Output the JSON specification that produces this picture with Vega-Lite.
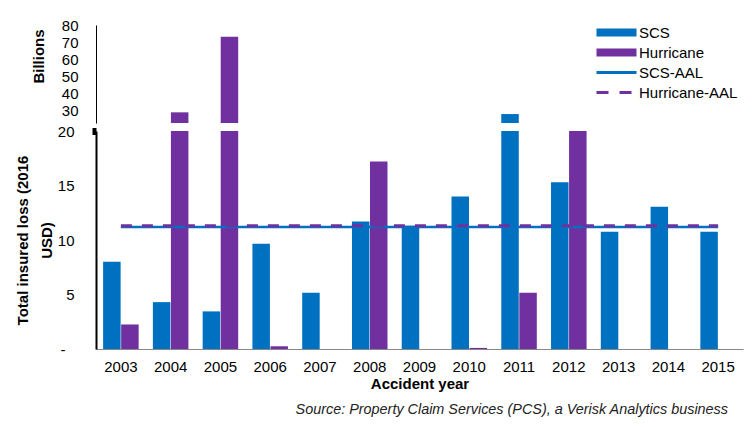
{
  "$schema": "https://vega.github.io/schema/vega-lite/v6.json",
  "background": "white",
  "padding": {"left": 15, "top": 18, "right": 5, "bottom": 5},
  "bounds": "flush",
  "spacing": 8,
  "config": {
    "font": "Liberation Sans",
    "view": {"stroke": null},
    "axis": {"labelFont": "Liberation Sans", "titleFont": "Liberation Sans", "labelColor": "#000", "titleColor": "#000", "grid": false, "ticks": false, "labelFontSize": 15, "titleFontSize": 15, "titleFontWeight": "bold"}
  },
  "datasets": {
    "losses": [
      {"year": "2003", "type": "SCS", "value": 8.0},
      {"year": "2003", "type": "Hurricane", "value": 2.25},
      {"year": "2004", "type": "SCS", "value": 4.3},
      {"year": "2004", "type": "Hurricane", "value": 29.2},
      {"year": "2005", "type": "SCS", "value": 3.45},
      {"year": "2005", "type": "Hurricane", "value": 73.2},
      {"year": "2006", "type": "SCS", "value": 9.65},
      {"year": "2006", "type": "Hurricane", "value": 0.25},
      {"year": "2007", "type": "SCS", "value": 5.15},
      {"year": "2007", "type": "Hurricane", "value": 0},
      {"year": "2008", "type": "SCS", "value": 11.7},
      {"year": "2008", "type": "Hurricane", "value": 17.2},
      {"year": "2009", "type": "SCS", "value": 11.3},
      {"year": "2009", "type": "Hurricane", "value": 0},
      {"year": "2010", "type": "SCS", "value": 14.0},
      {"year": "2010", "type": "Hurricane", "value": 0.1},
      {"year": "2011", "type": "SCS", "value": 28.2},
      {"year": "2011", "type": "Hurricane", "value": 5.15},
      {"year": "2012", "type": "SCS", "value": 15.3},
      {"year": "2012", "type": "Hurricane", "value": 20.3},
      {"year": "2013", "type": "SCS", "value": 10.75},
      {"year": "2013", "type": "Hurricane", "value": 0},
      {"year": "2014", "type": "SCS", "value": 13.05},
      {"year": "2014", "type": "Hurricane", "value": 0},
      {"year": "2015", "type": "SCS", "value": 10.75},
      {"year": "2015", "type": "Hurricane", "value": 0}
    ],
    "aal": [
      {"year": "2003", "series": "SCS-AAL", "value": 11.2},
      {"year": "2004", "series": "SCS-AAL", "value": 11.2},
      {"year": "2005", "series": "SCS-AAL", "value": 11.2},
      {"year": "2006", "series": "SCS-AAL", "value": 11.2},
      {"year": "2007", "series": "SCS-AAL", "value": 11.2},
      {"year": "2008", "series": "SCS-AAL", "value": 11.2},
      {"year": "2009", "series": "SCS-AAL", "value": 11.2},
      {"year": "2010", "series": "SCS-AAL", "value": 11.2},
      {"year": "2011", "series": "SCS-AAL", "value": 11.2},
      {"year": "2012", "series": "SCS-AAL", "value": 11.2},
      {"year": "2013", "series": "SCS-AAL", "value": 11.2},
      {"year": "2014", "series": "SCS-AAL", "value": 11.2},
      {"year": "2015", "series": "SCS-AAL", "value": 11.2},
      {"year": "2003", "series": "Hurricane-AAL", "value": 11.3},
      {"year": "2004", "series": "Hurricane-AAL", "value": 11.3},
      {"year": "2005", "series": "Hurricane-AAL", "value": 11.3},
      {"year": "2006", "series": "Hurricane-AAL", "value": 11.3},
      {"year": "2007", "series": "Hurricane-AAL", "value": 11.3},
      {"year": "2008", "series": "Hurricane-AAL", "value": 11.3},
      {"year": "2009", "series": "Hurricane-AAL", "value": 11.3},
      {"year": "2010", "series": "Hurricane-AAL", "value": 11.3},
      {"year": "2011", "series": "Hurricane-AAL", "value": 11.3},
      {"year": "2012", "series": "Hurricane-AAL", "value": 11.3},
      {"year": "2013", "series": "Hurricane-AAL", "value": 11.3},
      {"year": "2014", "series": "Hurricane-AAL", "value": 11.3},
      {"year": "2015", "series": "Hurricane-AAL", "value": 11.3}
    ]
  },
  "title": {
    "text": "Source: Property Claim Services (PCS), a Verisk Analytics business",
    "orient": "bottom",
    "anchor": "end",
    "font": "Liberation Sans",
    "fontSize": 14.4,
    "fontStyle": "italic",
    "fontWeight": "normal",
    "color": "#222",
    "offset": 12,
    "dx": -15
  },
  "resolve": {"scale": {"x": "shared", "color": "shared"}, "legend": {"color": "independent"}},
  "vconcat": [
    {
      "width": 647,
      "height": 98,
      "data": {"name": "losses"},
      "mark": {"type": "bar", "clip": true},
      "encoding": {
        "x": {"field": "year", "type": "nominal", "scale": {"paddingInner": 0.286, "paddingOuter": 0.143}, "axis": null},
        "xOffset": {"field": "type", "scale": {"domain": ["SCS", "Hurricane"], "paddingInner": 0.03}},
        "y": {
          "field": "value", "type": "quantitative",
          "scale": {"domain": [23, 80], "nice": false, "zero": false},
          "axis": {"values": [30, 40, 50, 60, 70, 80], "title": "Billions", "domainColor": "#000", "domainWidth": 1, "labelPadding": 18, "titleAngle": 270, "titleBaseline": "middle", "titleX": -58, "titleY": 31}
        },
        "color": {
          "field": "type",
          "scale": {"domain": ["SCS", "Hurricane", "SCS-AAL", "Hurricane-AAL"], "range": ["#0070C0", "#7030A0", "#0070C0", "#7030A0"]},
          "legend": {
            "title": null,
            "orient": "none",
            "legendX": 503,
            "legendY": 0,
            "labelFont": "Liberation Sans",
            "labelFontSize": 15,
            "labelColor": "#000",
            "symbolType": "M-1,0H3",
            "symbolSize": 400,
            "labelOffset": 25,
            "rowPadding": 4,
            "encode": {
              "symbols": {
                "update": {
                  "fill": {"value": "transparent"},
                  "stroke": {"signal": "scale('color', datum.value)"},
                  "strokeJoin": {"value": "bevel"},
                  "strokeWidth": {"signal": "datum.value === 'SCS' || datum.value === 'Hurricane' ? 8 : 3"},
                  "strokeDash": {"signal": "datum.value === 'Hurricane-AAL' ? [12, 11] : [100, 0]"}
                }
              }
            }
          }
        }
      }
    },
    {
      "width": 647,
      "height": 218,
      "layer": [
        {
          "data": {"name": "losses"},
          "mark": {"type": "bar", "clip": true},
          "encoding": {
            "x": {"field": "year", "type": "nominal", "scale": {"paddingInner": 0.286, "paddingOuter": 0.143},
              "axis": {"title": "Accident year", "labelAngle": 0, "labelPadding": 10, "titlePadding": 2, "domainColor": "#888", "domainWidth": 1}},
            "xOffset": {"field": "type", "scale": {"domain": ["SCS", "Hurricane"], "paddingInner": 0.03}},
            "y": {
              "field": "value", "type": "quantitative",
              "scale": {"domain": [0, 20], "nice": false},
              "axis": {"values": [0, 5, 10, 15, 20], "title": ["Total insured loss (2016", "USD)"], "domainColor": "#000", "domainWidth": 2,
                "labelPadding": {"condition": {"test": "datum.value === 0", "value": 27}, "value": 18},
                "labelExpr": "datum.value === 0 ? '-' : datum.label",
                "ticks": true, "tickSize": 4, "tickWidth": 7, "tickColor": "#000",
                "tickOpacity": {"condition": {"test": "datum.value === 20", "value": 1}, "value": 0},
                "titleAngle": 270, "titleBaseline": "middle", "titleX": -74, "titleLineHeight": 24,
                "encode": {
                  "ticks": {"update": {"x": {"value": 4}}}
                }
              }
            },
            "color": {"field": "type", "legend": null}
          }
        },
        {
          "data": {"name": "aal"},
          "transform": [{"filter": "datum.series === 'SCS-AAL'"}],
          "mark": {"type": "line", "strokeWidth": 2.5},
          "encoding": {
            "x": {"field": "year", "type": "nominal"},
            "y": {"field": "value", "type": "quantitative"},
            "color": {"field": "series", "legend": null}
          }
        },
        {
          "data": {"name": "aal"},
          "transform": [{"filter": "datum.series === 'Hurricane-AAL'"}],
          "mark": {"type": "line", "strokeWidth": 3, "strokeDash": [11, 10]},
          "encoding": {
            "x": {"field": "year", "type": "nominal"},
            "y": {"field": "value", "type": "quantitative"},
            "color": {"field": "series", "legend": null}
          }
        }
      ]
    }
  ]
}
